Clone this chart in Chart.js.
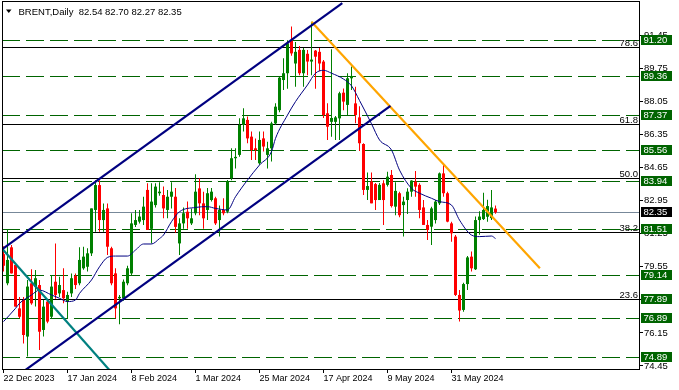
<!DOCTYPE html>
<html><head><meta charset="utf-8">
<script src="https://cdn.jsdelivr.net/npm/chart.js@4.4.1/dist/chart.umd.min.js"></script>
<style>html,body{margin:0;padding:0;background:#fff;}canvas{display:block;}</style>
</head><body>
<canvas id="c" width="679" height="390" style="width:679px;height:390px"></canvas>
<script>
// ---------- DATA ----------
const symbolTitle = 'BRENT,Daily';
const dateTickBars = [0, 16, 32, 48, 64, 80, 96, 112];
const dateLabels = ['22 Dec 2023', '17 Jan 2024', '8 Feb 2024', '1 Mar 2024', '25 Mar 2024', '17 Apr 2024', '9 May 2024', '31 May 2024'];
const priceTicks = [91.45, 89.75, 88.05, 86.35, 84.65, 82.95, 81.25, 79.55, 77.85, 76.15, 74.45];

const opens = [80.2,78.7,80.55,79.64,77.41,77.84,75.96,78.70,78.53,78.61,
  76.30,77.76,76.98,78.78,78.18,78.35,77.76,78.18,79.08,78.70,
  79.47,79.55,80.24,82.47,83.75,81.95,82.55,80.50,79.21,77.93,
  77.93,78.70,79.21,81.70,81.87,81.95,83.50,81.50,82.72,83.33,
  83.24,82.47,83.15,83.15,80.75,81.78,82.38,81.78,82.30,83.58,
  82.81,82.47,82.98,83.07,81.95,82.47,82.38,84.10,85.13,85.30,
  86.84,87.10,86.24,85.64,84.87,86.15,85.30,85.64,86.92,87.60,
  89.15,89.50,91.20,90.00,90.70,89.50,90.50,90.10,90.66,90.60,
  90.10,87.44,87.00,87.00,87.18,88.50,87.87,89.24,87.95,87.23,
  85.86,83.50,83.93,83.80,82.98,83.84,83.76,84.27,82.64,83.33,
  82.72,82.98,83.41,83.93,83.76,82.60,81.70,81.61,81.95,82.81,
  84.35,83.33,81.78,81.10,78.10,77.33,78.66,80.07,79.42,81.95,
  82.00,82.12,82.05,82.54];
const highs = [80.6,81.47,80.67,79.73,78.0,78.0,78.87,79.42,79.38,78.87,
  77.84,77.84,79.13,80.75,79.04,79.47,78.27,79.2,79.2,80.55,
  80.58,80.5,82.55,84.0,84.0,82.8,82.8,80.58,79.47,78.1,
  78.9,79.6,82.3,82.47,82.47,83.15,83.84,83.84,83.84,83.9,
  83.67,83.5,83.9,83.6,82.04,82.6,82.9,82.55,84.3,84.1,
  83.4,83.6,83.6,83.15,82.7,83.07,84.01,85.64,85.64,87.18,
  87.7,87.27,86.5,86.15,86.5,86.5,85.98,87.0,87.95,89.3,
  90.27,91.2,91.9,91.1,90.9,90.8,90.7,92.15,90.7,90.8,
  90.18,87.95,90.73,87.3,88.55,88.72,89.5,89.84,88.8,87.8,
  85.9,84.4,84.4,83.85,83.85,84.0,84.44,84.53,83.9,83.41,
  83.15,83.58,84.0,84.47,83.84,82.98,81.95,82.64,82.98,84.4,
  84.78,83.41,81.87,81.18,78.35,78.73,80.1,80.33,82.13,82.4,
  83.36,83.0,83.5,82.70];
const lows = [79.3,78.6,79.2,77.5,76.9,75.6,74.93,77.6,77.5,75.27,
  75.96,76.64,76.9,77.9,78.0,77.67,76.9,78.0,78.4,78.6,
  79.4,79.3,80.1,81.35,81.35,81.35,80.15,78.6,76.9,76.6,
  77.8,78.6,79.1,81.6,81.78,81.7,81.44,80.75,82.6,83.2,
  82.04,82.04,82.55,81.3,80.15,81.5,81.5,81.7,82.2,82.2,
  81.5,81.95,82.9,81.7,81.1,82.2,82.3,84.0,84.6,85.2,
  86.5,85.9,85.04,85.04,84.8,85.47,84.6,84.96,86.84,87.5,
  88.64,88.7,90.4,88.8,89.4,88.8,89.4,89.4,88.7,89.6,
  87.2,86.07,86.24,86.07,86.07,87.6,87.35,88.64,86.93,85.5,
  83.24,82.98,82.81,82.47,82.98,81.7,83.67,82.6,82.2,82.1,
  81.1,82.26,83.15,83.15,82.04,81.7,80.93,80.67,81.78,82.72,
  83.15,81.84,80.84,78.05,76.73,77.24,78.35,79.3,79.38,81.2,
  81.95,81.87,81.95,82.27];
const closes = [79.6,79.9,79.21,77.50,76.98,76.04,78.53,77.67,78.96,76.21,
  77.50,76.73,78.53,78.10,78.61,77.93,78.10,78.96,78.61,79.90,
  80.07,80.24,82.55,83.75,81.95,82.47,80.58,78.70,77.41,78.0,
  78.78,79.47,81.78,81.95,82.13,82.64,81.44,82.90,83.67,83.41,
  82.55,83.15,83.41,81.6,81.78,82.30,82.04,82.04,83.41,82.81,
  82.04,83.33,83.41,81.78,82.47,82.30,83.93,85.13,85.2,86.84,
  87.18,86.15,85.55,85.55,86.07,85.73,85.64,86.92,87.78,89.27,
  89.50,91.04,90.52,90.60,89.50,90.70,90.10,90.20,90.35,90.00,
  87.35,86.75,87.20,87.23,88.47,88.04,89.24,89.36,87.35,85.90,
  83.50,83.70,82.81,82.98,83.76,82.98,84.18,82.67,83.45,82.20,
  82.90,83.41,83.98,83.67,82.47,81.70,81.44,82.55,82.90,84.35,
  83.33,81.87,81.27,78.10,77.30,78.66,80.03,79.47,81.95,82.13,
  82.47,82.67,82.60,82.35];

// moving average line (bar index, value)
const maBars = [0,3,4,7,9,12,14,16,18,19,22,24,26,28,31,33,35,37,39,40,42,44,48,51,53,56,58,61,64,67,68,71,73,76,78,80,82,85,87,89,92,94,97,99,102,104,107,109,112,114,117,119,122,123];
const maValues = [76.73,77.41,77.67,78.10,78.35,78.10,77.93,77.76,77.84,78.18,78.87,79.55,80.03,80.10,80.10,80.41,80.72,80.72,81.00,81.18,81.87,82.38,82.60,82.64,82.55,82.47,83.15,84.01,84.78,85.47,86.15,87.35,88.04,88.90,89.50,89.65,89.50,89.20,88.85,88.10,86.90,86.07,85.55,84.52,83.58,83.33,83.07,82.90,82.72,81.95,81.18,81.10,81.13,81.00];

// drawn objects: trendlines as (bar, price) anchor pairs
const channelUpper = [[-0.375, 80.45], [84.7, 93.1]];
const channelLower = [[5.0, 74.17], [96.75, 87.82]];
const tealLine = [[-0.375, 80.49], [27.0, 74.12]];
const orangeLine = [[77, 92.15], [134.1, 79.47]];

// horizontal levels
const levelValues = [91.20, 89.36, 87.37, 85.56, 83.94, 81.51, 79.14, 77.89, 76.89, 74.89];
const fibLevels = [90.83, 86.87, 84.10, 81.32, 77.88];
const fibLabels = ['78.6', '61.8', '50.0', '38.2', '23.6'];
const bidPrice = 82.35;

// ---------- STYLE / LAYOUT ----------
const X_MIN = -0.375, X_MAX = 159.125;
const Y_MIN = 74.293, Y_MAX = 93.162;
const GREEN = '#006400';
const BULL = '#008000', BEAR = '#ff0000';
const FONT = '"Liberation Sans", Arial, sans-serif';

const idx = opens.map((_, i) => i);
const candleColors = idx.map(i => closes[i] >= opens[i] ? BULL : BEAR);
const wickData = idx.map(i => ({ x: i, y: [lows[i], highs[i]] }));
const bodyData = idx.map(i => ({ x: i, y: [opens[i], closes[i]] }));
const toPts = arr => arr.map(p => ({ x: p[0], y: p[1] }));

const lineDs = (pts, color, width, order) => ({
  type: 'line', data: toPts(pts), borderColor: color, borderWidth: width,
  pointRadius: 0, fill: false, order: order, tension: 0
});

const overlay = {
  id: 'overlay',
  beforeDatasetsDraw(chart) {
    const { ctx, chartArea: a, scales: { y } } = chart;
    ctx.save();
    ctx.beginPath(); ctx.rect(a.left, a.top, a.right - a.left, a.bottom - a.top); ctx.clip();
    const hl = (v, color, dash) => {
      const py = Math.round(y.getPixelForValue(v)) + 0.5;
      ctx.beginPath(); ctx.setLineDash(dash); ctx.strokeStyle = color; ctx.lineWidth = 1;
      ctx.moveTo(a.left, py); ctx.lineTo(a.right, py); ctx.stroke();
    };
    levelValues.forEach(v => hl(v, GREEN, [18, 6]));
    hl(bidPrice, '#778899', []);
    fibLevels.forEach(v => hl(v, '#000000', []));
    ctx.restore();
  },
  afterDatasetsDraw(chart) {
    const { ctx, chartArea: a, scales: { y } } = chart;
    ctx.save();
    ctx.font = '9.5px ' + FONT; ctx.fillStyle = '#000'; ctx.textAlign = 'right'; ctx.textBaseline = 'alphabetic';
    fibLevels.forEach((v, k) => {
      const py = Math.round(y.getPixelForValue(v));
      ctx.fillText(fibLabels[k], a.right - 2, py - 1);
    });
    ctx.restore();
  },
  afterDraw(chart) {
    const { ctx, chartArea: a, scales: { y } } = chart;
    ctx.save();
    // frame
    ctx.strokeStyle = '#000'; ctx.lineWidth = 1; ctx.setLineDash([]);
    ctx.strokeRect(a.left + 0.5, a.top - 0.5, a.right - a.left - 1, a.bottom - a.top + 1);
    // title
    const n = opens.length - 1;
    ctx.fillStyle = '#000';
    ctx.beginPath(); ctx.moveTo(6, 9.5); ctx.lineTo(11.5, 9.5); ctx.lineTo(8.75, 13); ctx.closePath(); ctx.fill();
    ctx.font = '9.5px ' + FONT; ctx.textAlign = 'left'; ctx.textBaseline = 'alphabetic';
    ctx.fillText(symbolTitle + '  ' + [opens[n], highs[n], lows[n], closes[n]].map(v => v.toFixed(2)).join(' '), 18.5, 15);
    // price boxes
    const box = (v, fill) => {
      const py = Math.round(y.getPixelForValue(v));
      ctx.fillStyle = fill; ctx.fillRect(641, py - 5, 31, 10);
      ctx.fillStyle = '#fff'; ctx.textBaseline = 'middle';
      ctx.fillText(v.toFixed(2), 643.5, py + 0.5);
    };
    levelValues.forEach(v => box(v, GREEN));
    box(bidPrice, '#000');
    ctx.restore();
  }
};

new Chart(document.getElementById('c'), {
  type: 'bar',
  data: {
    datasets: [
      lineDs(channelUpper, '#000080', 2.2, 0),
      lineDs(channelLower, '#000080', 2.2, 0),
      lineDs(tealLine, '#008080', 2.2, 0),
      lineDs(orangeLine, '#ffa500', 2.2, 0),
      { type: 'line', data: maBars.map((b, k) => ({ x: b, y: maValues[k] })), borderColor: '#000080', borderWidth: 1,
        pointRadius: 0, fill: false, order: 1, cubicInterpolationMode: 'monotone' },
      { type: 'bar', data: bodyData, backgroundColor: candleColors, borderWidth: 0, grouped: false,
        categoryPercentage: 1, barPercentage: 0.75, minBarLength: 1, order: 2 },
      { type: 'bar', data: wickData, backgroundColor: candleColors, borderWidth: 0, grouped: false,
        categoryPercentage: 1, barPercentage: 0.25, order: 3 }
    ]
  },
  options: {
    responsive: false, animation: false, devicePixelRatio: 1,
    layout: { padding: { left: 2, top: 2, right: 0, bottom: 0 }, autoPadding: false },
    plugins: { legend: { display: false }, tooltip: { enabled: false } },
    scales: {
      x: {
        type: 'linear', min: X_MIN, max: X_MAX, offset: false,
        afterBuildTicks: s => { s.ticks = dateTickBars.map(v => ({ value: v })); },
        afterFit: s => { s.height = 21; s.paddingLeft = 0; s.paddingRight = 0; },
        ticks: { callback: (v, i) => dateLabels[i], align: 'start', padding: 0, autoSkip: false,
          maxRotation: 0, minRotation: 0, color: '#000', font: { family: FONT, size: 9 } },
        grid: { drawOnChartArea: false, drawTicks: true, tickLength: 4, color: '#000', offset: false },
        border: { display: false }
      },
      y: {
        type: 'linear', position: 'right', min: Y_MIN, max: Y_MAX, stacked: false,
        afterBuildTicks: s => { s.ticks = priceTicks.map(v => ({ value: v })); },
        afterFit: s => { s.width = 39; s.paddingTop = 0; s.paddingBottom = 0; },
        ticks: { callback: v => Number(v).toFixed(2), padding: 1, autoSkip: false, color: '#000',
          font: { family: FONT, size: 9.5 } },
        grid: { drawOnChartArea: false, drawTicks: true, tickLength: 3, color: '#000' },
        border: { display: false }
      }
    }
  },
  plugins: [overlay]
});
</script>
</body></html>
